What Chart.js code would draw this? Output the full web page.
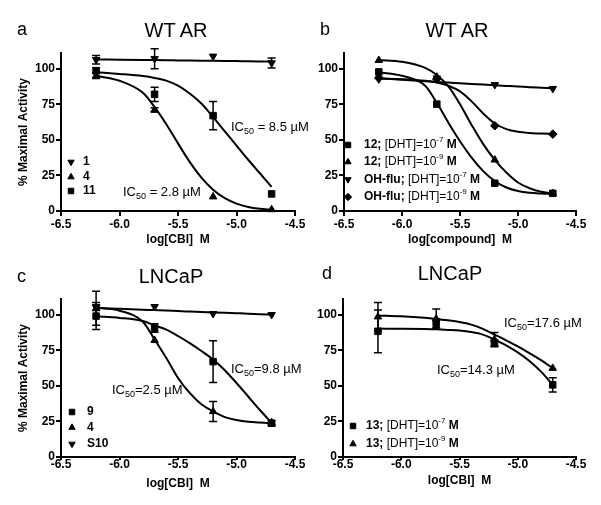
<!DOCTYPE html>
<html lang="en">
<head>
<meta charset="UTF-8">
<title>Dose response of CBI compounds</title>
<script src="https://cdn.jsdelivr.net/npm/chart.js"></script>
<style>
    body {
        margin: 0;
        width: 601px;
        height: 505px;
        position: relative;
        overflow: hidden;
        background: #fff;
        font-family: "Liberation Sans", Arial, sans-serif;
        color: #000;
    }
    canvas { position: absolute; }
    .txt { position: absolute; white-space: nowrap; }
    .letter { font-size: 18px; line-height: 20px; }
    .head { font-size: 20px; line-height: 20px; width: 120px; text-align: center; }
    .ic { font-size: 13px; line-height: 15px; }
    .ic sub { font-size: 9px; line-height: 0; vertical-align: -3px; }
</style>
</head>
<body>
<canvas id="chartA" width="320" height="250" style="left:0;top:0"></canvas>
<canvas id="chartB" width="301" height="250" style="left:300px;top:0"></canvas>
<canvas id="chartC" width="320" height="255" style="left:0;top:250px"></canvas>
<canvas id="chartD" width="301" height="255" style="left:300px;top:250px"></canvas>

<div class="txt letter" style="left:17px;top:19px">a</div>
<div class="txt head" style="left:116px;top:20px">WT AR</div>
<div class="txt letter" style="left:320px;top:19px">b</div>
<div class="txt head" style="left:397px;top:20px">WT AR</div>
<div class="txt letter" style="left:17px;top:266px">c</div>
<div class="txt head" style="left:111px;top:266px">LNCaP</div>
<div class="txt letter" style="left:322px;top:263px">d</div>
<div class="txt head" style="left:390px;top:263px">LNCaP</div>

<div class="txt ic" style="left:231px;top:119px">IC<sub>50</sub> = 8.5 µM</div>
<div class="txt ic" style="left:123px;top:184px">IC<sub>50</sub> = 2.8 µM</div>
<div class="txt ic" style="left:231px;top:361px">IC<sub>50</sub>=9.8 µM</div>
<div class="txt ic" style="left:112px;top:382px">IC<sub>50</sub>=2.5 µM</div>
<div class="txt ic" style="left:504px;top:315px">IC<sub>50</sub>=17.6 µM</div>
<div class="txt ic" style="left:437px;top:362px">IC<sub>50</sub>=14.3 µM</div>

<script>
const doses = [-6.2, -5.7, -5.2, -4.7];
const fitDoses = [-6.2, -6.0, -5.8, -5.7, -5.6, -5.5, -5.4, -5.3, -5.2, -5.1, -5.0, -4.9, -4.8, -4.7];
const xTicks = [-6.5, -6.0, -5.5, -5.0, -4.5];
const yTicks = [0, 25, 50, 75, 100];

// panel a - WT AR, CBI
const a1 = [106.3, 107, 108.7, 104];
const a1Err = [3, 7, 0, 3.5];
const a4 = [95, 71, 10, 1];
const a4Err = [2, 1.5, 0, 0];
const a11 = [98.6, 82, 67, 12];
const a11Err = [2, 5, 10, 0];
const a1Fit = [106.5, 106.3, 106.1, 106.0, 105.9, 105.8, 105.7, 105.6, 105.5, 105.4, 105.3, 105.2, 105.1, 105.0];
const a4Fit = [95, 91.5, 83, 73, 61, 47.5, 34.5, 23.5, 15, 9, 5.2, 2.8, 1.5, 0.8];
const a11Fit = [97.5, 96.3, 94.8, 93.5, 91.6, 88, 82.5, 75.5, 66, 56, 46, 36, 26.5, 17];

// panel b - WT AR, compound 12 and OH-flutamide
const b12hi = [97.7, 75.1, 19.5, 12.4];
const b12lo = [105.9, 94.1, 35.9, 12.4];
const bOHhi = [92.7, 93.4, 88.7, 86];
const bOHlo = [93.4, 92.7, 59.9, 54];
const b12hiFit = [97.5, 95, 88, 76, 62, 49, 37.5, 28, 21, 16.5, 14, 12.8, 12.3, 12];
const b12loFit = [106, 104.8, 100.5, 95.5, 87.5, 75, 60.5, 47, 36, 27, 20, 16, 13.5, 12.3];
const bOHhiFit = [93.2, 92.2, 91.2, 90.7, 90.2, 89.8, 89.3, 88.8, 88.3, 87.9, 87.5, 87, 86.6, 86.2];
const bOHloFit = [93, 92.6, 91.5, 90.3, 88, 84, 77, 68.5, 61.5, 57.5, 55.6, 54.8, 54.4, 54.2];

// panel c - LNCaP, CBI
const c9 = [99, 90.6, 67, 23.7];
const c9Err = [9.5, 3, 14.7, 2];
const c4 = [104.5, 82, 32, 24.2];
const c4Err = [12, 0, 7, 0];
const cS10 = [105, 105.6, 100.7, 100];
const cS10Err = [2, 0, 0, 0];
const c9Fit = [98.8, 97.7, 95.5, 92.5, 89.5, 85, 80, 74.5, 68.5, 61, 52, 42.5, 33, 24];
const c4Fit = [105, 102.8, 95, 82.5, 69.5, 55.5, 45, 37, 32, 28, 26, 24.8, 24.2, 23.8];
const cS10Fit = [104.7, 104.1, 103.5, 103.2, 102.9, 102.5, 102.2, 101.9, 101.6, 101.3, 101, 100.7, 100.3, 100];

// panel d - LNCaP, compound 13
const d13hi = [88.3, 94, 80, 50.7];
const d13hiErr = [15, 3, 2, 5];
const d13lo = [98.5, 97, 82.4, 62.4];
const d13loErr = [10, 7, 5, 0];
const d13hiFit = [90.2, 90.1, 89.9, 89.7, 89.3, 88.8, 87.8, 86, 82.5, 78.5, 73.5, 67.5, 60, 50.7];
const d13loFit = [99.3, 98.8, 97.8, 97, 96, 94.8, 93, 90, 86, 82, 77.7, 73, 68, 62.4];

// legend text: *bold*, ^{superscript}
const aNames = ['*1*', '*4*', '*11*'];
const bNames = ['*12;* [DHT]=10^{-7}* M*', '*12;* [DHT]=10^{-9}* M*', '*OH-flu;* [DHT]=10^{-7}* M*', '*OH-flu;* [DHT]=10^{-9}* M*'];
const cNames = ['*9*', '*4*', '*S10*'];
const dNames = ['*13;* [DHT]=10^{-7}* M*', '*13;* [DHT]=10^{-9}* M*'];

const FONT = "'Liberation Sans', Arial, sans-serif";
Chart.defaults.font.family = FONT;
Chart.defaults.color = '#000';

const SQ = { shape: 'rect', r: 4.6, rot: 0 };
const UP = { shape: 'triangle', r: 4.3, rot: 0 };
const DN = { shape: 'triangle', r: 4.3, rot: 180 };
const DI = { shape: 'rectRot', r: 4.3, rot: 0 };

function pts(xs, ys) {
    return xs.map((x, i) => ({ x: x, y: ys[i] }));
}

function markers(name, ys, err, mk) {
    return {
        label: name.replace(/[*^{}]/g, ''),
        legendText: name,
        data: pts(doses, ys),
        errors: err,
        mk: mk,
        showLine: false,
        pointStyle: mk.shape,
        pointRadius: mk.r,
        pointRotation: mk.rot,
        pointBackgroundColor: '#000',
        pointBorderColor: '#000',
        pointBorderWidth: 1,
        clip: false,
        order: 0
    };
}

function fit(ys) {
    return {
        label: 'fit',
        data: pts(fitDoses, ys),
        showLine: true,
        pointRadius: 0,
        borderColor: '#000',
        borderWidth: 2,
        cubicInterpolationMode: 'monotone',
        fill: false,
        clip: false,
        order: 1
    };
}

// error bars for datasets that carry an "errors" array
const errorBars = {
    id: 'errorBars',
    afterDatasetsDraw(chart) {
        const ctx = chart.ctx;
        const ys = chart.scales.y;
        ctx.save();
        ctx.strokeStyle = '#000';
        ctx.lineWidth = 1.5;
        chart.data.datasets.forEach((ds, i) => {
            if (!ds.errors) return;
            const meta = chart.getDatasetMeta(i);
            meta.data.forEach((pt, j) => {
                const e = ds.errors[j];
                if (!e) return;
                const v = ds.data[j].y;
                const top = ys.getPixelForValue(v + e);
                const bot = ys.getPixelForValue(v - e);
                ctx.beginPath();
                ctx.moveTo(pt.x, top); ctx.lineTo(pt.x, bot);
                ctx.moveTo(pt.x - 4, top); ctx.lineTo(pt.x + 4, top);
                ctx.moveTo(pt.x - 4, bot); ctx.lineTo(pt.x + 4, bot);
                ctx.stroke();
            });
        });
        ctx.restore();
    }
};

// legend drawn inside the plot, GraphPad style
function drawRich(ctx, markup, x, y) {
    const parts = markup.split(/(\*[^*]*\*|\^\{[^}]*\})/).filter(s => s.length);
    parts.forEach(p => {
        let dy = 0;
        if (p[0] === '*') {
            p = p.slice(1, -1);
            ctx.font = 'bold 12px ' + FONT;
        } else if (p[0] === '^') {
            p = p.slice(2, -1);
            ctx.font = '8px ' + FONT;
            dy = -5;
        } else {
            ctx.font = '12px ' + FONT;
        }
        ctx.fillText(p, x, y + dy);
        x += ctx.measureText(p).width;
    });
}

const insideLegend = {
    id: 'insideLegend',
    afterDraw(chart, args, opts) {
        const ctx = chart.ctx;
        ctx.save();
        ctx.fillStyle = '#000';
        ctx.strokeStyle = '#000';
        ctx.textBaseline = 'middle';
        let row = 0;
        chart.data.datasets.forEach(ds => {
            if (!ds.legendText) return;
            const y = opts.rows[row++];
            Chart.helpers.drawPoint(ctx, {
                pointStyle: ds.mk.shape,
                radius: ds.mk.r * 0.85,
                rotation: ds.mk.rot,
                borderWidth: 1
            }, opts.x, y);
            drawRich(ctx, ds.legendText, opts.textX, y);
        });
        ctx.restore();
    }
};

function axes(xTitle, yTitle, yWidth, xHeight, xTitlePad, xTick, xLabelPad) {
    const grid = { display: true, drawOnChartArea: false, drawTicks: true, tickLength: 5, color: '#000', lineWidth: 2 };
    const xGrid = Object.assign({}, grid, { tickLength: xTick });
    const border = { display: true, color: '#000', width: 2 };
    const tickFont = { size: 12, weight: 'bold' };
    const titleFont = { size: 12, weight: 'bold' };
    return {
        x: {
            type: 'linear', min: -6.5, max: -4.5,
            afterBuildTicks: s => { s.ticks = xTicks.map(v => ({ value: v })); },
            afterFit: s => { s.height = xHeight; },
            ticks: { color: '#000', font: tickFont, padding: xLabelPad, maxRotation: 0, callback: v => Number(v).toFixed(1) },
            grid: xGrid,
            border: border,
            title: { display: true, text: xTitle, color: '#000', font: titleFont, padding: { top: 0, bottom: xTitlePad } }
        },
        y: {
            type: 'linear', min: 0, max: 111,
            afterBuildTicks: s => { s.ticks = yTicks.map(v => ({ value: v })); },
            afterFit: s => { s.width = yWidth; },
            ticks: { color: '#000', font: tickFont, padding: 1 },
            grid: grid,
            border: border,
            title: { display: !!yTitle, text: yTitle || '', color: '#000', font: titleFont, padding: { top: 16, bottom: 0 } }
        }
    };
}

function makeChart(id, datasets, scales, pad, legendPos) {
    return new Chart(document.getElementById(id), {
        type: 'scatter',
        data: { datasets: datasets },
        options: {
            responsive: false,
            animation: false,
            devicePixelRatio: 1,
            layout: { autoPadding: false, padding: pad },
            scales: scales,
            plugins: {
                legend: { display: false },
                tooltip: { enabled: false },
                insideLegend: legendPos
            }
        },
        plugins: [errorBars, insideLegend]
    });
}

makeChart('chartA', [
    markers(aNames[0], a1, a1Err, DN),
    markers(aNames[1], a4, a4Err, UP),
    markers(aNames[2], a11, a11Err, SQ),
    fit(a1Fit), fit(a4Fit), fit(a11Fit)
], axes('log[CBI]  M', '% Maximal Activity', 61, 39, 3, 5, 1),
   { left: 0, top: 53, right: 25, bottom: 0 },
   { x: 71, textX: 83, rows: [162, 177, 191] });

makeChart('chartB', [
    markers(bNames[0], b12hi, null, SQ),
    markers(bNames[1], b12lo, null, UP),
    markers(bNames[2], bOHhi, null, DN),
    markers(bNames[3], bOHlo, null, DI),
    fit(b12hiFit), fit(b12loFit), fit(bOHhiFit), fit(bOHloFit)
], axes('log[compound]  M', '', 44, 39, 3, 5, 1),
   { left: 0, top: 53, right: 25, bottom: 0 },
   { x: 48, textX: 64, rows: [145, 162, 179.5, 197] });

makeChart('chartC', [
    markers(cNames[0], c9, c9Err, SQ),
    markers(cNames[1], c4, c4Err, UP),
    markers(cNames[2], cS10, cS10Err, DN),
    fit(c9Fit), fit(c4Fit), fit(cS10Fit)
], axes('log[CBI]  M', '% Maximal Activity', 61, 48, 14, 3, -3),
   { left: 0, top: 49, right: 25, bottom: 0 },
   { x: 72, textX: 87, rows: [162, 177.5, 194] });

makeChart('chartD', [
    markers(dNames[0], d13hi, d13hiErr, SQ),
    markers(dNames[1], d13lo, d13loErr, UP),
    fit(d13hiFit), fit(d13loFit)
], axes('log[CBI]  M', '', 43, 48, 17, 3, -3),
   { left: 0, top: 49, right: 25, bottom: 0 },
   { x: 53, textX: 66, rows: [176, 194] });
</script>
</body>
</html>
